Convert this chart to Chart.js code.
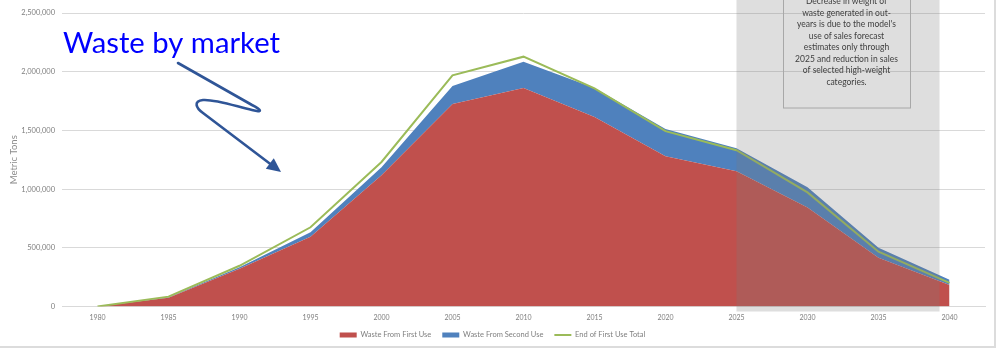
<!DOCTYPE html>
<html>
<head>
<meta charset="utf-8">
<script src="https://cdn.jsdelivr.net/npm/chart.js@4/dist/chart.umd.min.js"></script>
<style>
  html, body { margin: 0; padding: 0; background: #fff; }
  #wrap { position: relative; width: 998px; height: 361px; overflow: hidden; }
  #frameR { position: absolute; left: 994px; top: 0; width: 2px; height: 348px; background: #DCDCDC; }
  #frameB { position: absolute; left: 0; top: 346px; width: 996px; height: 2px; background: #DCDCDC; }
  canvas { position: absolute; left: 0; top: 0; }
</style>
</head>
<body>
<div id="wrap">
  <canvas id="c" width="998" height="361"></canvas>
  <div id="frameR"></div>
  <div id="frameB"></div>
</div>
<script>
// Years on the category axis
const years = ['1980','1985','1990','1995','2000','2005','2010','2015','2020','2025','2030','2035','2040'];

// Metric tons of waste
const firstUse  = [0, 75000, 321000, 595000, 1117000, 1725000, 1862000, 1614000, 1280000, 1152000, 843000, 415000, 184000];
const secondUse = [0, 4000, 13000, 37000, 69000, 154000, 222000, 248000, 231000, 196000, 172000, 86000, 43000];
const endOfFirstUseTotal = [0, 84000, 347000, 675000, 1231000, 1969000, 2128000, 1858000, 1494000, 1331000, 972000, 467000, 201000];

// Y axis ticks
const yTicks = [0, 500000, 1000000, 1500000, 2000000, 2500000];

const seriesNames = ['Waste From First Use', 'Waste From Second Use', 'End of First Use Total'];

const noteLines = [
  'Decrease in weight of',
  'waste generated in out-',
  "years is due to the model's",
  'use of sales forecast',
  'estimates only through',
  '2025 and reduction in sales',
  'of selected high-weight',
  'categories.'
];
const shadeFrom = '2025';
const headline = 'Waste by market';

const FONT = "Lato, 'Open Sans', sans-serif";

// Shaded forecast band, note box, headline and arrow
const decorations = {
  id: 'decorations',
  afterDatasetsDraw(chart) {
    const ctx = chart.ctx;
    const x = chart.scales.x;
    const area = chart.chartArea;
    const left = x.getPixelForValue(years.indexOf(shadeFrom));
    const right = x.getPixelForValue(years.length - 1) - 10;
    ctx.save();
    ctx.fillStyle = 'rgba(125,125,125,0.25)';
    ctx.fillRect(left, 0, right - left, area.bottom + 5);
    ctx.restore();
  },
  afterDraw(chart) {
    const ctx = chart.ctx;
    ctx.save();
    // note box
    ctx.strokeStyle = '#A8A8A8';
    ctx.lineWidth = 1;
    ctx.strokeRect(783.5, -5, 127, 113);
    ctx.fillStyle = '#404040';
    ctx.font = '8.5px ' + FONT;
    ctx.textAlign = 'center';
    ctx.textBaseline = 'middle';
    noteLines.forEach((t, i) => ctx.fillText(t, 846.5, 1.5 + i * 11.5));

    // headline
    ctx.fillStyle = '#0000FF';
    ctx.font = '28px ' + FONT;
    ctx.textAlign = 'left';
    ctx.textBaseline = 'alphabetic';
    const w = ctx.measureText(headline).width;
    ctx.translate(63, 53);
    ctx.scale(217 / w, 1);
    ctx.fillText(headline, 0, 0);
    ctx.setTransform(1, 0, 0, 1, 0, 0);

    // squiggle arrow
    ctx.strokeStyle = '#2F5597';
    ctx.fillStyle = '#2F5597';
    ctx.lineWidth = 2.6;
    ctx.lineCap = 'round';
    ctx.lineJoin = 'round';
    ctx.beginPath();
    ctx.moveTo(178, 63);
    ctx.lineTo(252, 105);
    ctx.bezierCurveTo(262, 110, 263, 113, 252, 110);
    ctx.bezierCurveTo(235, 106, 215, 99, 203, 100);
    ctx.bezierCurveTo(193, 101, 196, 108, 203, 113);
    ctx.lineTo(271, 164.5);
    ctx.stroke();
    ctx.beginPath();
    ctx.moveTo(281, 172);
    ctx.lineTo(265.8, 168.8);
    ctx.lineTo(273.8, 158.2);
    ctx.closePath();
    ctx.fill();
    ctx.restore();
  }
};

new Chart(document.getElementById('c'), {
  type: 'line',
  data: {
    labels: years,
    datasets: [
      {
        label: seriesNames[0],
        data: firstUse,
        stack: 'waste',
        order: 1,
        fill: 'origin',
        backgroundColor: '#C0504D',
        borderColor: '#C0504D',
        borderWidth: 0,
        pointRadius: 0,
        tension: 0
      },
      {
        label: seriesNames[1],
        data: secondUse,
        stack: 'waste',
        order: 2,
        fill: '-1',
        backgroundColor: '#4F81BD',
        borderColor: '#4F81BD',
        borderWidth: 0,
        pointRadius: 0,
        tension: 0
      },
      {
        label: seriesNames[2],
        data: endOfFirstUseTotal,
        stack: 'total',
        order: 0,
        fill: false,
        borderColor: '#9BBB59',
        backgroundColor: '#9BBB59',
        borderWidth: 2,
        pointRadius: 0,
        pointStyle: 'line',
        tension: 0
      }
    ]
  },
  options: {
    responsive: false,
    animation: false,
    devicePixelRatio: 1,
    layout: { padding: { left: 0, right: 13, top: 13, bottom: 12.25 } },
    plugins: {
      tooltip: { enabled: false },
      legend: {
        position: 'bottom',
        labels: {
          usePointStyle: true,
          pointStyleWidth: 17,
          boxHeight: 5,
          padding: 11,
          color: '#7F7F7F',
          font: { family: FONT, size: 7.5 },
          sort: (a, b) => a.datasetIndex - b.datasetIndex,
          generateLabels(chart) {
            return chart.data.datasets.map((ds, i) => ({
              text: ds.label,
              datasetIndex: i,
              fillStyle: ds.backgroundColor,
              strokeStyle: ds.borderColor,
              lineWidth: i === 2 ? 2 : 0,
              pointStyle: i === 2 ? 'line' : 'rect',
              fontColor: '#7F7F7F',
              hidden: false
            }));
          }
        }
      }
    },
    scales: {
      x: {
        offset: true,
        grid: { display: false, drawTicks: false },
        border: { display: true, color: '#D9D9D9', width: 1 },
        ticks: {
          color: '#7F7F7F',
          font: { family: FONT, size: 7 },
          padding: 7.5,
          maxRotation: 0,
          autoSkip: false
        },
        afterFit(s) { s.height = 13.75; }
      },
      y: {
        stacked: true,
        min: 0,
        max: 2500000,
        afterBuildTicks(s) { s.ticks = yTicks.map(v => ({ value: v })); },
        grid: { color: '#D9D9D9', drawTicks: false, lineWidth: 1 },
        border: { display: false },
        ticks: {
          color: '#7F7F7F',
          font: { family: FONT, size: 7.5 },
          padding: 7,
          callback: v => Number(v).toLocaleString('en-US')
        },
        title: {
          display: true,
          text: 'Metric Tons',
          color: '#8C8C8C',
          font: { family: FONT, size: 9.5 },
          padding: { top: 8, bottom: 0 }
        },
        afterFit(s) { s.width = 62; }
      }
    }
  },
  plugins: [decorations]
});
</script>
</body>
</html>
